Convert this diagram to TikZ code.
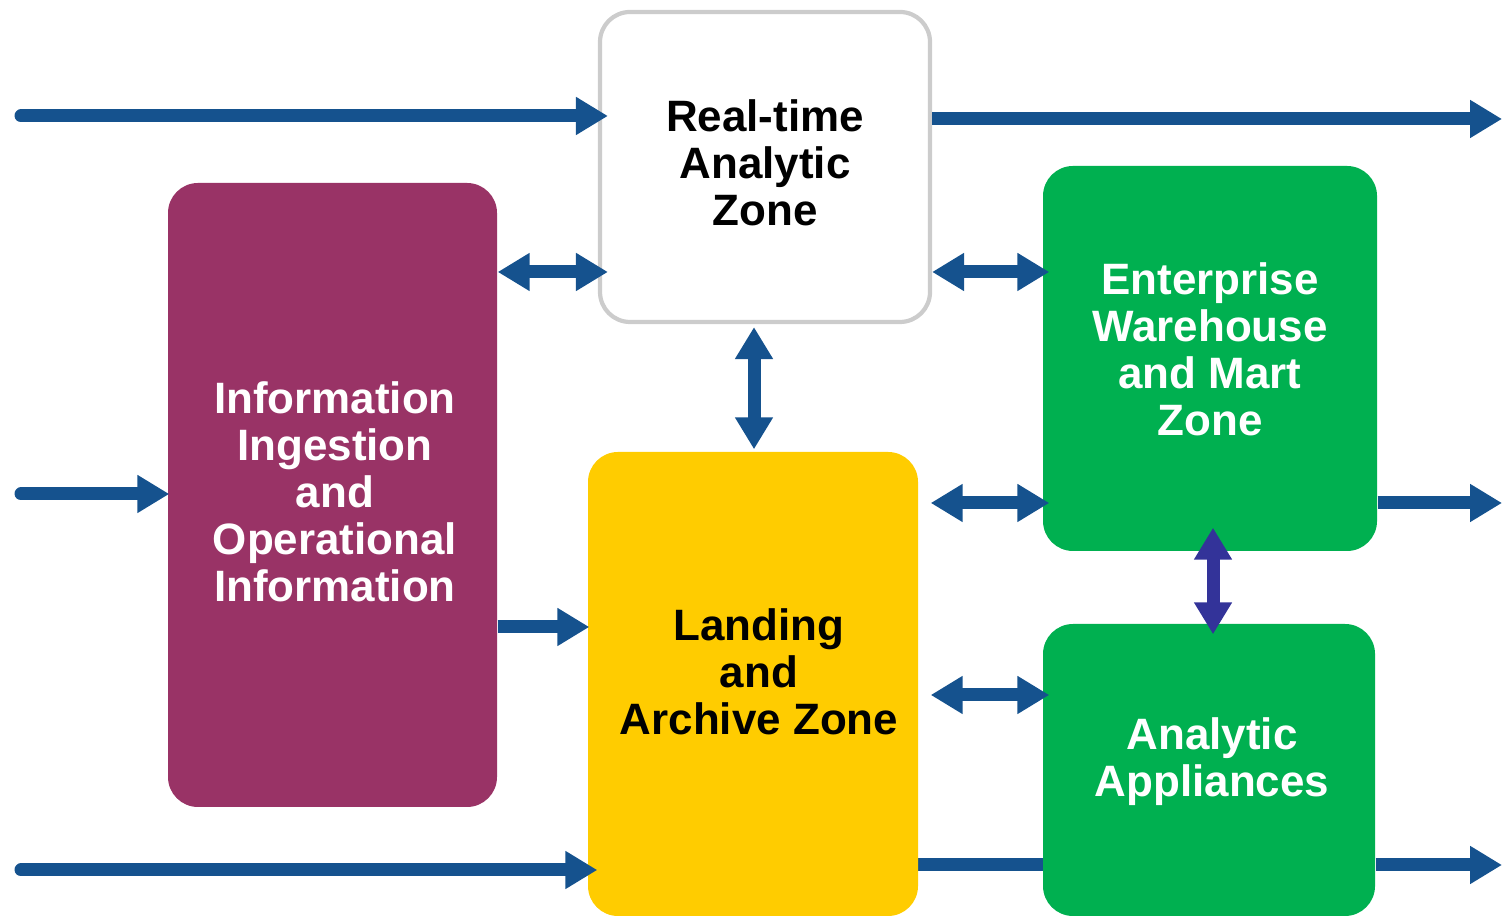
\documentclass[tikz,border=0pt]{standalone}
\usepackage{fontspec}
\setmainfont{Liberation Sans}
\usetikzlibrary{arrows.meta}
\definecolor{flowblue}{HTML}{15528E}
\definecolor{linkindigo}{HTML}{333399}
\definecolor{ingestpurple}{HTML}{993366}
\definecolor{zonegreen}{HTML}{00B050}
\definecolor{zoneyellow}{HTML}{FFCC00}
\tikzstyle{zone} = [rectangle, rounded corners=0.3cm, inner sep=0pt]
\tikzstyle{whitezone} = [zone, fill=white, draw=black!20, line width=1.2pt]
\tikzstyle{purplezone} = [zone, fill=ingestpurple]
\tikzstyle{greenzone} = [zone, fill=zonegreen]
\tikzstyle{yellowzone} = [zone, fill=zoneyellow]
\tikzstyle{zonetext} = [align=center, inner sep=0pt, font=\fontsize{12.5}{13.4}\selectfont\bfseries]
\tikzstyle{arrow} = [flowblue, line width=0.13cm, -{Triangle[length=0.32cm, width=0.36cm]}]
\tikzstyle{inarrow} = [arrow, line cap=round]
\tikzstyle{twoway} = [flowblue, line width=0.13cm, {Triangle[length=0.32cm, width=0.36cm]}-{Triangle[length=0.32cm, width=0.36cm]}]
\tikzstyle{flowline} = [flowblue, line width=0.13cm]

\begin{document}
\begin{tikzpicture}
    \useasboundingbox (0,0) rectangle (15.02,9.16);

    % free ends
    \coordinate (topin) at (0.21,8.00);
    \coordinate (topout) at (15.02,7.97);
    \coordinate (midin) at (0.21,4.22);
    \coordinate (midout) at (15.02,4.13);
    \coordinate (lowin) at (0.21,0.46);
    \coordinate (lowout) at (15.02,0.51);

    % bottom line runs behind the zones
    \coordinate (lowa) at (8.00,0.51);
    \coordinate (lowb) at (11.50,0.51);
    \draw [flowline] (lowa) -- (lowb);

    \node [whitezone, minimum width=3.30cm, minimum height=3.10cm] at (7.65,7.49) (realtime) {};
    \node [purplezone, minimum width=3.29cm, minimum height=6.24cm] at (3.325,4.21) (ingest) {};
    \node [greenzone, minimum width=3.34cm, minimum height=3.85cm] at (12.10,5.575) (warehouse) {};
    \node [yellowzone, minimum width=3.30cm, minimum height=4.64cm] at (7.53,2.32) (landing) {};
    \node [greenzone, minimum width=3.32cm, minimum height=2.92cm] at (12.09,1.46) (appliance) {};

    \node [zonetext, text=black] at ([yshift=0.04cm]realtime.center) (realtimetext) {Real-time\\Analytic\\Zone};
    \node [zonetext, text=white] at ([xshift=0.025cm,yshift=0.03cm]ingest.center) (ingesttext) {Information\\Ingestion\\and\\Operational\\Information};
    \node [zonetext, text=white] at ([yshift=0.09cm]warehouse.center) (warehousetext) {Enterprise\\Warehouse\\and Mart\\Zone};
    \node [zonetext, text=black] at ([xshift=0.06cm,yshift=0.12cm]landing.center) (landingtext) {Landing\\and\\Archive Zone};
    \node [zonetext, text=white] at ([xshift=0.03cm,yshift=0.08cm]appliance.center) (appliancetext) {Analytic\\Appliances};

    % rows and columns of the connectors
    \coordinate (row1) at (0,6.44);
    \coordinate (row2) at (0,4.13);
    \coordinate (row3) at (0,2.89);
    \coordinate (row4) at (0,2.21);
    \coordinate (col1) at (7.54,0);
    \coordinate (col2) at (12.13,0);

    \draw [inarrow] (topin) -- ([xshift=0.10cm]realtime.west |- topin);
    \draw [arrow] (realtime.east |- topout) -- (topout);
    \draw [twoway] (ingest.east |- row1) -- ([xshift=0.10cm]realtime.west |- row1);
    \draw [twoway] (realtime.east |- row1) -- ([xshift=0.07cm]warehouse.west |- row1);
    \draw [twoway] ([yshift=-0.03cm]realtime.south -| col1) -- ([yshift=0.02cm]landing.north -| col1);
    \draw [inarrow] (midin) -- ([xshift=0.02cm]ingest.west |- midin);
    \draw [twoway] ([xshift=0.12cm]landing.east |- row2) -- ([xshift=0.07cm]warehouse.west |- row2);
    \draw [arrow] (warehouse.east |- midout) -- (midout);
    \draw [twoway, linkindigo] ([yshift=0.24cm]warehouse.south -| col2) -- ([yshift=-0.11cm]appliance.north -| col2);
    \draw [arrow] (ingest.east |- row3) -- ([xshift=0.02cm]landing.west |- row3);
    \draw [twoway] ([xshift=0.12cm]landing.east |- row4) -- ([xshift=0.07cm]appliance.west |- row4);
    \draw [inarrow] (lowin) -- ([xshift=0.10cm]landing.west |- lowin);
    \draw [arrow] (appliance.east |- lowout) -- (lowout);
\end{tikzpicture}
\end{document}
